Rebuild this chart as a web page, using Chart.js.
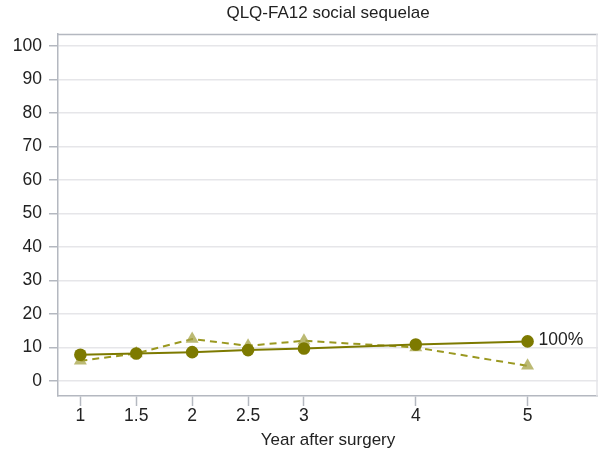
<!DOCTYPE html>
<html><head><meta charset="utf-8">
<script src="https://cdn.jsdelivr.net/npm/chart.js@4/dist/chart.umd.min.js"></script>
<style>html,body{margin:0;padding:0;background:#fff}#wrap{width:598px;height:459px}</style>
</head><body><div id="wrap"><canvas id="c"></canvas></div>
<script>
const years = [1, 1.5, 2, 2.5, 3, 4, 5];
const xTicks = [1, 1.5, 2, 2.5, 3, 4, 5];
const yTicks = [0, 10, 20, 30, 40, 50, 60, 70, 80, 90, 100];
const solidSeries = [7.8, 8.2, 8.6, 9.2, 9.7, 10.9, 11.8];
const dashedSeries = [6.0, 8.2, 12.5, 10.5, 12.0, 10.0, 4.5];
const endLabel = '100%';
const chartTitle = 'QLQ-FA12 social sequelae';

const olive = '#7d7a00';
const font = 'Liberation Sans, Arial, sans-serif';
const axisGray = '#b4b8c0';

const boxPlugin = {
  id: 'box',
  afterDraw(chart) {
    const {ctx, chartArea: a} = chart;
    ctx.save();
    ctx.strokeStyle = axisGray;
    ctx.lineWidth = 1.5;
    ctx.beginPath();
    ctx.moveTo(a.left, a.top + 0.5);
    ctx.lineTo(a.right, a.top + 0.5);
    ctx.stroke();
    ctx.strokeStyle = '#e4e4e8';
    ctx.beginPath();
    ctx.moveTo(a.right - 1, a.top);
    ctx.lineTo(a.right - 1, a.bottom);
    ctx.stroke();
    // title centred on plot area
    ctx.fillStyle = '#222';
    ctx.font = '17px ' + font;
    ctx.textAlign = 'center';
    ctx.textBaseline = 'middle';
    ctx.fillText(chartTitle, (a.left + a.right) / 2, 13);
    // end label
    const meta = chart.getDatasetMeta(0);
    const p = meta.data[meta.data.length - 1];
    ctx.textAlign = 'left';
    ctx.font = '17.5px ' + font;
    ctx.fillText(endLabel, p.x + 11, p.y - 1);
    ctx.restore();
  }
};

new Chart(document.getElementById('c'), {
  type: 'line',
  data: {
    datasets: [
      {
        data: years.map((x, i) => ({x, y: solidSeries[i]})),
        borderColor: olive,
        backgroundColor: olive,
        borderWidth: 2,
        pointStyle: 'circle',
        pointRadius: 6.3,
        pointBorderWidth: 0,
        tension: 0
      },
      {
        data: years.map((x, i) => ({x, y: dashedSeries[i]})),
        borderColor: '#9a9820',
        backgroundColor: 'rgba(165,163,70,0.75)',
        borderWidth: 2,
        borderDash: [7, 5],
        pointStyle: 'triangle',
        pointRadius: 7.5,
        pointBorderWidth: 0,
        tension: 0
      }
    ]
  },
  options: {
    responsive: true,
    maintainAspectRatio: false,
    animation: false,
    layout: {autoPadding: false, padding: {left: 0, right: 0, top: 34, bottom: 0}},
    plugins: {
      legend: {display: false},
      tooltip: {enabled: false},
      title: {display: false}
    },
    scales: {
      x: {
        type: 'linear',
        min: 0.8,
        max: 5.63,
        afterBuildTicks: s => { s.ticks = xTicks.map(v => ({value: v})); },
        afterFit: s => { s.height = 63; s.paddingRight = 0; s.paddingLeft = 0; },
        grid: {drawOnChartArea: false, drawTicks: true, tickLength: 10, tickColor: axisGray, tickWidth: 1.5},
        border: {color: axisGray, width: 1.5},
        ticks: {color: '#222', font: {family: font, size: 17.5, lineHeight: 1.0}, padding: 1, maxRotation: 0, autoSkip: false,
                callback: v => String(v)},
        title: {display: true, text: 'Year after surgery', color: '#222', font: {family: font, size: 17}, padding: {top: 2, bottom: 8}}
      },
      y: {
        type: 'linear',
        min: -4.5,
        max: 103.6,
        afterBuildTicks: s => { s.ticks = yTicks.map(v => ({value: v})); },
        afterFit: s => { s.width = 58; s.paddingTop = 0; s.paddingBottom = 0; },
        grid: {color: '#e6e6e9', lineWidth: 1.5, tickColor: axisGray, tickLength: 9, tickWidth: 1.5},
        border: {color: axisGray, width: 1.5},
        ticks: {color: '#222', font: {family: font, size: 17.5}, padding: 7, autoSkip: false}
      }
    }
  },
  plugins: [boxPlugin]
});
</script></body></html>
